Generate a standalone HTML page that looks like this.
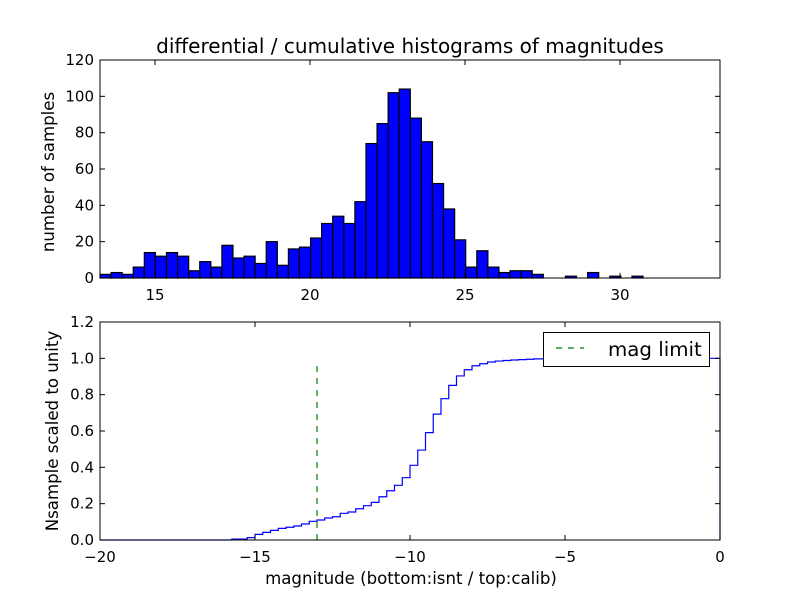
<!DOCTYPE html>
<html><head><meta charset="utf-8"><style>
html,body{margin:0;padding:0;background:#fff;width:800px;height:600px;overflow:hidden}
svg{display:block;font-family:"DejaVu Sans","Liberation Sans",sans-serif}
</style></head><body>
<svg id="fig" width="800" height="600" viewBox="0 0 800 600">
<rect width="800" height="600" fill="#fff"/>
</svg>
<script>
// top histogram data
const topCounts=[2,3,2,6,14,12,14,12,4,9,6,18,11,12,8,20,7,16,17,22,30,34,30,42,74,85,102,104,88,75,52,38,21,6,15,6,3,4,4,2,0,0,1,0,3,0,1,0,1,0];
const topBinStart=13.226;
const topBinWidth=0.3575;
const topXTicks=[15,20,25,30];
const topYTicks=[0,20,40,60,80,100,120];
// bottom cumulative data: bins of 0.25 from -20 to 0
const botBinStart=-20;
const botBinWidth=0.25;
const botCum=[0,0,0,0,0,0,0,0,0,0,0,0,0,0,0,0,0,0.005,0.005,0.013,0.031,0.042,0.053,0.064,0.070,0.077,0.088,0.103,0.110,0.121,0.128,0.147,0.154,0.172,0.189,0.207,0.238,0.271,0.301,0.343,0.411,0.495,0.591,0.693,0.778,0.851,0.903,0.937,0.959,0.970,0.980,0.985,0.988,0.991,0.993,0.995,0.997,0.998,0.999,1,1,1,1,1,1,1,1,1,1,1,1,1,1,1,1,1,1,1,1,1];
const botXTicks=[-20,-15,-10,-5,0];
const botYTicks=[0.0,0.2,0.4,0.6,0.8,1.0,1.2];
const magLimit=-13;
const magLimitTop=0.965;

const NS='http://www.w3.org/2000/svg';
const svg=document.getElementById('fig');
function mk(tag,attrs,parent){const e=document.createElementNS(NS,tag);for(const k in attrs)e.setAttribute(k,attrs[k]);(parent||svg).appendChild(e);return e;}

const L=100,R=720;
// top axes
const tT=60,tB=278;
const txS=v=>L+(v-13.226)*31;
const tyS=v=>tB-(v/120)*(tB-tT);
const gTop=mk('g',{});


topCounts.forEach((c,i)=>{
  if(c<=0) return;
  const x0=txS(topBinStart+i*topBinWidth),x1=txS(topBinStart+(i+1)*topBinWidth);
  const r=mk('rect',{x:x0,y:tyS(c),width:x1-x0,height:tB-tyS(c),fill:'#0000ff',stroke:'#000','stroke-width':1.2},gTop);
  
  
});
const fT=mk('rect',{x:L,y:tT,width:R-L,height:tB-tT,fill:'none',stroke:'#000','stroke-width':1});


topXTicks.forEach(v=>{const x=txS(v);
  mk('line',{x1:x,x2:x,y1:tB,y2:tB-5,stroke:'#000'});mk('line',{x1:x,x2:x,y1:tT,y2:tT+5,stroke:'#000'});
  const t=mk('text',{x:x,y:tB+22,'text-anchor':'middle','font-size':15});t.textContent=v;
  
  });
topYTicks.forEach(v=>{const y=tyS(v);
  mk('line',{x1:L,x2:L+5,y1:y,y2:y,stroke:'#000'});mk('line',{x1:R,x2:R-5,y1:y,y2:y,stroke:'#000'});
  const t=mk('text',{x:L-6,y:y+5,'text-anchor':'end','font-size':15});t.textContent=v;
  
  });
let t=mk('text',{x:410,y:53,'text-anchor':'middle','font-size':20});t.textContent='differential / cumulative histograms of magnitudes';


t=mk('text',{x:54,y:172,'text-anchor':'middle','font-size':16.6,transform:'rotate(-90 54 172)'});t.textContent='number of samples';



// bottom axes
const bT=322,bB=540;
const bxS=v=>L+(v+20)*31;
const byS=v=>bB-(v/1.2)*(bB-bT);
let d='M'+bxS(botBinStart)+','+byS(0);
botCum.forEach((c,i)=>{const x0=bxS(botBinStart+i*botBinWidth),x1=bxS(botBinStart+(i+1)*botBinWidth);d+=' L'+x0+','+byS(c)+' L'+x1+','+byS(c);});
d+=' L'+bxS(botBinStart+botCum.length*botBinWidth)+','+byS(0);
const cp=mk('path',{d:d,fill:'none',stroke:'#0000ff','stroke-width':1.2});


const ml=mk('line',{x1:bxS(magLimit),x2:bxS(magLimit),y1:byS(0),y2:byS(magLimitTop),stroke:'#007f00','stroke-width':1.2,'stroke-dasharray':'6,6'});


const fB=mk('rect',{x:L,y:bT,width:R-L,height:bB-bT,fill:'none',stroke:'#000','stroke-width':1});


botXTicks.forEach(v=>{const x=bxS(v);
  mk('line',{x1:x,x2:x,y1:bB,y2:bB-5,stroke:'#000'});mk('line',{x1:x,x2:x,y1:bT,y2:bT+5,stroke:'#000'});
  const t=mk('text',{x:x,y:bB+22,'text-anchor':'middle','font-size':15});t.textContent=(v<0?'\u2212'+(-v):v);
  
  });
botYTicks.forEach(v=>{const y=byS(v);
  mk('line',{x1:L,x2:L+5,y1:y,y2:y,stroke:'#000'});mk('line',{x1:R,x2:R-5,y1:y,y2:y,stroke:'#000'});
  const t=mk('text',{x:L-6,y:y+5,'text-anchor':'end','font-size':15});t.textContent=v.toFixed(1);
  
  });
t=mk('text',{x:411,y:584,'text-anchor':'middle','font-size':16.6});t.textContent='magnitude (bottom:isnt / top:calib)';


t=mk('text',{x:58,y:431,'text-anchor':'middle','font-size':16.6,transform:'rotate(-90 58 431)'});t.textContent='Nsample scaled to unity';



// legend
const lg=mk('g',{});


mk('rect',{x:543.5,y:332.5,width:166,height:34,fill:'#fff',stroke:'#000','stroke-width':1},lg);
mk('line',{x1:556,x2:584,y1:348,y2:348,stroke:'#007f00','stroke-width':1.2,'stroke-dasharray':'6,6'},lg);
t=mk('text',{x:608,y:356,'font-size':19.8},lg);t.textContent='mag limit';


</script>
</body></html>
